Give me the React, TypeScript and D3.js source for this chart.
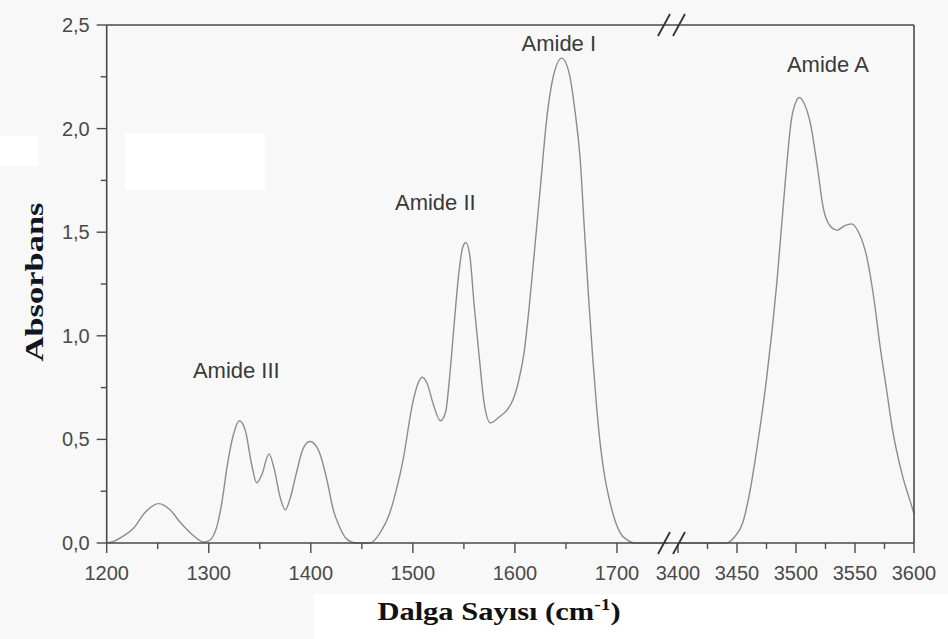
import React from "react";
import * as d3 from "d3";

// Left segment (1200–1750 cm-1)
const leftWave = [1200,1205,1215,1226,1238,1251,1262,1272,1284,1295,1300,1308,1313,1318,1324,1330,1336,1342,1347,1352,1359,1364,1370,1375,1380,1386,1392,1399,1405,1409,1416,1422,1428,1435,1445,1458,1468,1477,1484,1490,1500,1505,1509,1514,1520,1527,1532,1536,1540,1545,1549,1552,1556,1560,1565,1570,1576,1585,1592,1598,1604,1609,1614,1619,1625,1631,1638,1646,1653,1659,1664,1668,1672,1676,1680,1684,1688,1693,1698,1703,1710,1717,1750];
const leftAbs = [0.0,0.005,0.03,0.07,0.15,0.19,0.16,0.10,0.04,0.005,0.01,0.08,0.2,0.37,0.52,0.59,0.54,0.38,0.29,0.33,0.43,0.36,0.22,0.16,0.22,0.34,0.45,0.49,0.47,0.43,0.30,0.16,0.08,0.02,0.0,0.0,0.05,0.14,0.26,0.39,0.68,0.77,0.80,0.77,0.67,0.59,0.63,0.80,1.03,1.30,1.43,1.45,1.38,1.15,0.90,0.67,0.58,0.61,0.64,0.69,0.79,0.92,1.14,1.40,1.72,2.04,2.26,2.34,2.27,2.08,1.85,1.52,1.20,0.91,0.66,0.46,0.32,0.20,0.11,0.05,0.015,0.0,0.0];

// Right segment (3400–3600 cm-1)
const rightWave = [3400,3441,3448,3455,3461,3467,3475,3484,3491,3496,3500,3503,3507,3512,3518,3523,3529,3535,3541,3547,3553,3560,3566,3571,3577,3582,3590,3599,3600];
const rightAbs = [0,0,0.03,0.10,0.25,0.46,0.79,1.27,1.75,2.04,2.13,2.15,2.12,2.03,1.82,1.62,1.53,1.51,1.53,1.54,1.50,1.38,1.18,0.96,0.73,0.54,0.33,0.16,0.14];

const xLeftTicks = [1200,1300,1400,1500,1600,1700];
const xLeftMinor = [1250,1350,1450,1550,1650];
const xRightTicks = [3400,3450,3500,3550,3600];
const xRightMinor = [3425,3475,3525,3575];
const yTicks = [0,0.5,1,1.5,2,2.5];
const yMinor = [0.25,0.75,1.25,1.75,2.25];

const annLabels = ["Amide III","Amide II","Amide I","Amide A"];
const annWave = [1327,1522,1643,3527];
const annAbs = [0.835,1.645,2.41,2.31];

export default function App() {
  const W = 948, H = 639;
  const top = 25, bottom = 543, left = 106.7, right = 914;
  const xL = d3.scaleLinear().domain([1200,1750]).range([left, 668]);
  const xR = d3.scaleLinear().domain([3400,3600]).range([678, right]);
  const y = d3.scaleLinear().domain([0,2.5]).range([bottom, top]);
  const fmt = (v: number) => d3.format(".1f")(v).replace(".", ",");

  const leftData = leftWave.map((w,i)=>[w,leftAbs[i]] as [number,number]);
  const rightData = rightWave.map((w,i)=>[w,rightAbs[i]] as [number,number]);
  const lineL = d3.line<[number,number]>().x(d=>xL(d[0])).y(d=>y(d[1])).curve(d3.curveMonotoneX);
  const lineR = d3.line<[number,number]>().x(d=>xR(d[0])).y(d=>y(d[1])).curve(d3.curveMonotoneX);

  const axisColor = "#4a4a4a";
  const tickFont = "'Liberation Sans', Arial, sans-serif";
  const breaks = [664, 679];

  return (
    <svg width={W} height={H} style={{position:"absolute", left:0, top:0}}>
      <rect x={0} y={0} width={W} height={H} fill="#f8f8f8" />
      <rect x={125} y={133} width={140} height={57} fill="#ffffff" />
      <rect x={314} y={594} width={634} height={45} fill="#ffffff" />
      <rect x={0} y={136} width={38} height={30} fill="#ffffff" />
      {/* curves */}
      <path d={lineL(leftData) || ""} fill="none" stroke="#8c8c8c" strokeWidth={1.4} />
      <path d={lineR(rightData) || ""} fill="none" stroke="#8c8c8c" strokeWidth={1.4} />
      {/* frame */}
      <line x1={left} y1={top} x2={right} y2={top} stroke={axisColor} strokeWidth={1.6} />
      <line x1={left} y1={bottom} x2={right} y2={bottom} stroke={axisColor} strokeWidth={1.6} />
      <line x1={left} y1={top} x2={left} y2={bottom} stroke={axisColor} strokeWidth={1.6} />
      <line x1={right} y1={top} x2={right} y2={bottom} stroke={axisColor} strokeWidth={1.6} />
      {/* y ticks */}
      {yTicks.map(t => (
        <g key={"y"+t}>
          <line x1={left-10} x2={left} y1={y(t)} y2={y(t)} stroke={axisColor} strokeWidth={1.4} />
          <text x={left-17} y={y(t)} dy="0.35em" textAnchor="end" fontFamily={tickFont} fontSize={20} fill="#4a4a4a">{fmt(t)}</text>
        </g>
      ))}
      {yMinor.map(t => (
        <line key={"ym"+t} x1={left-6} x2={left} y1={y(t)} y2={y(t)} stroke={axisColor} strokeWidth={1.4} />
      ))}
      {/* x ticks */}
      {xLeftTicks.map(t => (
        <g key={"xl"+t}>
          <line x1={xL(t)} x2={xL(t)} y1={bottom} y2={bottom+10} stroke={axisColor} strokeWidth={1.4} />
          <text x={xL(t)} y={580} textAnchor="middle" fontFamily={tickFont} fontSize={20} fill="#4a4a4a">{t}</text>
        </g>
      ))}
      {xLeftMinor.map(t => (
        <line key={"xlm"+t} x1={xL(t)} x2={xL(t)} y1={bottom} y2={bottom+6} stroke={axisColor} strokeWidth={1.4} />
      ))}
      {xRightTicks.map(t => (
        <g key={"xr"+t}>
          <line x1={xR(t)} x2={xR(t)} y1={bottom} y2={bottom+10} stroke={axisColor} strokeWidth={1.4} />
          <text x={xR(t)} y={580} textAnchor="middle" fontFamily={tickFont} fontSize={20} fill="#4a4a4a">{t}</text>
        </g>
      ))}
      {xRightMinor.map(t => (
        <line key={"xrm"+t} x1={xR(t)} x2={xR(t)} y1={bottom} y2={bottom+6} stroke={axisColor} strokeWidth={1.4} />
      ))}
      {/* break marks */}
      {[top, bottom].map(yy => breaks.map(bx => (
        <line key={"b"+yy+"_"+bx} x1={bx-6} y1={yy+11} x2={bx+6} y2={yy-11} stroke="#333" strokeWidth={1.8} />
      )))}
      {/* annotations */}
      {annLabels.map((lab,i) => {
        const xs = annWave[i] > 3000 ? xR(annWave[i]) : xL(annWave[i]);
        return (
          <text key={lab} x={xs} y={y(annAbs[i])} dy="0.35em" textAnchor="middle" fontFamily={tickFont} fontSize={22} fill="#3a3a3a">{lab}</text>
        );
      })}
      {/* axis titles */}
      <text transform={`translate(43,282) rotate(-90)`} textAnchor="middle" fontFamily="'Liberation Serif', 'Times New Roman', serif" fontWeight="bold" fontSize={25} fill="#141420" textLength={159} lengthAdjust="spacingAndGlyphs">Absorbans</text>
      <text transform="translate(499,620) scale(1.22,1)" x={0} y={0} textAnchor="middle" fontFamily="'Liberation Serif', 'Times New Roman', serif" fontWeight="bold" fontSize={25} fill="#111">
        Dalga Sayısı (cm<tspan dy={-10} fontSize={16}>-1</tspan><tspan dy={10}>)</tspan>
      </text>
    </svg>
  );
}
